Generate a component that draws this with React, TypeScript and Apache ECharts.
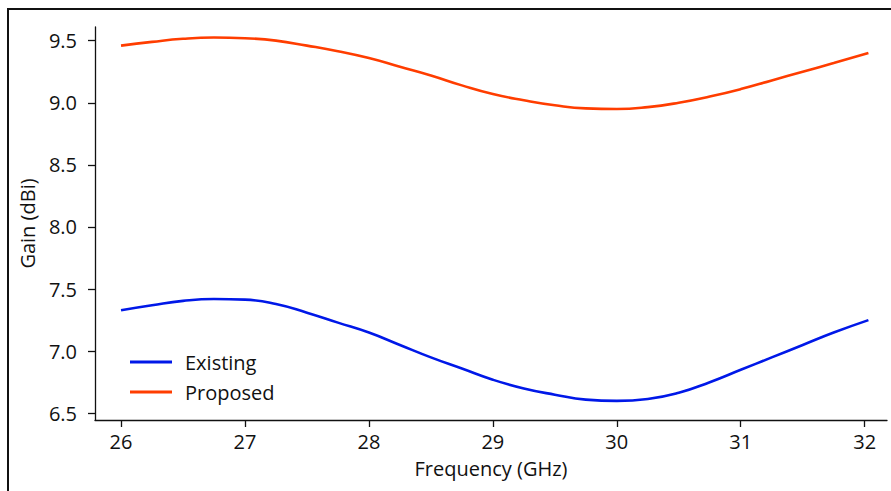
import React, { useEffect, useRef } from "react";
import * as echarts from "echarts";

const frequency = [
  26.0, 26.25, 26.5, 26.75, 27.0, 27.25, 27.5, 27.75, 28.0, 28.25, 28.5, 28.75, 29.0,
  29.25, 29.5, 29.75, 30.0, 30.25, 30.5, 30.75, 31.0, 31.25, 31.5, 31.75, 32.03,
];
const existing = [
  7.33, 7.37, 7.405, 7.42, 7.415, 7.38, 7.31, 7.23, 7.15, 7.05, 6.95, 6.86, 6.77,
  6.70, 6.65, 6.61, 6.60, 6.615, 6.665, 6.75, 6.85, 6.95, 7.05, 7.15, 7.25,
];
const proposed = [
  9.46, 9.49, 9.515, 9.525, 9.52, 9.50, 9.46, 9.415, 9.36, 9.29, 9.22, 9.14, 9.07,
  9.02, 8.98, 8.955, 8.95, 8.965, 9.00, 9.05, 9.11, 9.18, 9.25, 9.32, 9.40,
];
const xTicks = [26, 27, 28, 29, 30, 31, 32];
const yTicks = [6.5, 7.0, 7.5, 8.0, 8.5, 9.0, 9.5];

const FONT = "Open Sans";
const FS = 20;
const INK = "#111111";

export default function App() {
  const ref = useRef<HTMLDivElement>(null);
  useEffect(() => {
    if (!ref.current) return;
    const chart = echarts.init(ref.current, undefined, { renderer: "svg" });
    const pair = (ys: number[]) => frequency.map((f, i) => [f, ys[i]]);
    chart.setOption({
      animation: false,
      backgroundColor: "#ffffff",
      textStyle: { fontFamily: FONT },
      graphic: [
        {
          type: "rect",
          z: -10,
          shape: { x: 8, y: 9, width: 900, height: 500 },
          style: { fill: "none", stroke: "#111111", lineWidth: 2 },
        },
      ],
      grid: { left: 95, right: 4, top: 27, bottom: 71, containLabel: false },
      legend: {
        orient: "vertical",
        left: 125,
        top: 346,
        icon: "rect",
        itemWidth: 42,
        itemHeight: 3,
        itemGap: 8,
        textStyle: { fontFamily: FONT, fontSize: FS, lineHeight: 22, color: INK, padding: [0, 0, 0, 8] },
        data: ["Existing", "Proposed"],
      },
      xAxis: {
        type: "value",
        min: 25.79,
        max: 32.18,
        name: "Frequency (GHz)",
        nameLocation: "middle",
        nameGap: 38,
        nameTextStyle: { fontFamily: FONT, fontSize: FS, color: INK },
        axisLine: { show: true, lineStyle: { color: INK, width: 1.3 } },
        axisTick: { show: true, length: 7, lineStyle: { color: INK, width: 1.3 }, customValues: xTicks },
        axisLabel: {
          fontFamily: FONT,
          fontSize: FS,
          color: INK,
          margin: 11,
          customValues: xTicks,
          formatter: (v: number) => String(v),
        },
        splitLine: { show: false },
      },
      yAxis: {
        type: "value",
        min: 6.446,
        max: 9.61,
        name: "Gain (dBi)",
        nameLocation: "middle",
        nameGap: 58,
        nameTextStyle: { fontFamily: FONT, fontSize: FS, color: INK },
        axisLine: { show: true, lineStyle: { color: INK, width: 1.3 } },
        axisTick: { show: true, length: 7, lineStyle: { color: INK, width: 1.3 }, customValues: yTicks },
        axisLabel: {
          fontFamily: FONT,
          fontSize: FS,
          color: INK,
          margin: 18,
          customValues: yTicks,
          formatter: (v: number) => v.toFixed(1),
        },
        splitLine: { show: false },
      },
      series: [
        {
          name: "Existing",
          type: "line",
          data: pair(existing),
          smooth: 0.5,
          symbol: "none",
          lineStyle: { color: "#0018e8", width: 2.6 },
          itemStyle: { color: "#0018e8" },
        },
        {
          name: "Proposed",
          type: "line",
          data: pair(proposed),
          smooth: 0.5,
          symbol: "none",
          lineStyle: { color: "#ff3d00", width: 2.6 },
          itemStyle: { color: "#ff3d00" },
        },
      ],
    });
    return () => chart.dispose();
  }, []);
  return (
    <div
      ref={ref}
      style={{ position: "fixed", left: 0, top: 0, width: 891, height: 491, background: "#fff" }}
    />
  );
}
